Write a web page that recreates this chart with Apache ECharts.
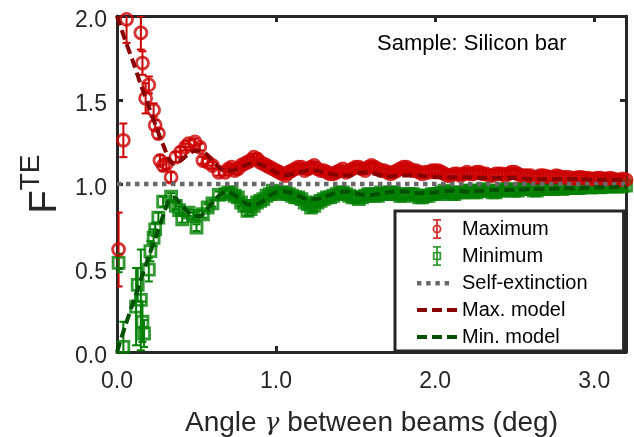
<!DOCTYPE html>
<html>
<head>
<meta charset="utf-8">
<title>F TE vs angle</title>
<script src="https://cdn.jsdelivr.net/npm/echarts@6/dist/echarts.min.js"></script>
<style>
    html, body { margin: 0; padding: 0; background: #fff; }
    #chart-container { width: 634px; height: 437px; }
</style>
</head>
<body>
<div id="chart-container"></div>
<script>
// early (small-angle) measurement positions, deg
const maxAngleEarly = [0.01, 0.04, 0.06, 0.15, 0.16, 0.18, 0.20, 0.23, 0.24, 0.26, 0.27, 0.29,
    0.31, 0.34, 0.37, 0.40, 0.43, 0.45, 0.49, 0.52, 0.54, 0.57, 0.60, 0.64];
const minAngleEarly = [0.01, 0.04, 0.12, 0.13, 0.15, 0.16, 0.17, 0.20, 0.21, 0.23, 0.24, 0.26,
    0.29, 0.34, 0.37, 0.39, 0.41, 0.45, 0.48, 0.50, 0.54, 0.57, 0.60, 0.64];
// shared positions past 0.66 deg
const tailAngle = [0.68, 0.72, 0.76, 0.80, 0.84, 0.88, 0.92, 0.96, 1.00, 1.04, 1.08, 1.12, 1.16,
    1.20, 1.24, 1.28, 1.32, 1.36, 1.40, 1.44, 1.48, 1.52, 1.56, 1.60, 1.64, 1.68, 1.72, 1.76,
    1.80, 1.84, 1.88, 1.92, 1.96, 2.00, 2.04, 2.08, 2.12, 2.16, 2.20, 2.24, 2.28, 2.32, 2.36,
    2.40, 2.44, 2.48, 2.52, 2.56, 2.60, 2.64, 2.68, 2.72, 2.76, 2.80, 2.84, 2.88, 2.92, 2.96,
    3.00, 3.04, 3.08, 3.12, 3.16, 3.20];
// in-between positions (second pass)
const midAngle = [0.70, 0.74, 0.78, 0.82, 0.86, 0.90, 0.94, 0.98, 1.02, 1.06, 1.10, 1.14, 1.18,
    1.22, 1.26, 1.30, 1.34, 1.38, 1.42, 1.46, 1.50, 1.54, 1.58, 1.62, 1.66, 1.70, 1.74, 1.78,
    1.82, 1.86, 1.90, 1.94, 1.98, 2.02, 2.06, 2.10, 2.14, 2.18, 2.22, 2.26, 2.30, 2.34, 2.38,
    2.42, 2.46, 2.50, 2.54, 2.58, 2.62, 2.66, 2.70, 2.74, 2.78, 2.82, 2.86, 2.90, 2.94, 2.98,
    3.02, 3.06, 3.10, 3.14, 3.18];

// Maximum (red circles): early + tail
const maxValue = [0.61, 1.26, 1.98, 1.90, 1.72, 1.51, 1.59, 1.44, 1.35, 1.30, 1.14, 1.11,
    1.12, 1.04, 1.16, 1.19, 1.22, 1.24, 1.25, 1.22, 1.14, 1.13, 1.11, 1.07,
    1.07, 1.10, 1.09, 1.12, 1.14, 1.15, 1.12, 1.10, 1.08, 1.06,
    1.07, 1.09, 1.10, 1.09, 1.11, 1.08, 1.07, 1.06, 1.08, 1.07,
    1.09, 1.10, 1.08, 1.11, 1.09, 1.08, 1.06, 1.08, 1.10, 1.09,
    1.08, 1.06, 1.07, 1.08, 1.07, 1.05, 1.06, 1.05, 1.07, 1.06,
    1.07, 1.06, 1.05, 1.06, 1.05, 1.07, 1.06, 1.05, 1.05, 1.04,
    1.05, 1.04, 1.05, 1.04, 1.04, 1.035, 1.04, 1.035, 1.03, 1.035,
    1.03, 1.03, 1.025, 1.025];
const maxError = [0.22, 0.10, 0.14, 0.10, 0.07, 0.09, 0.05, 0.04, 0.03, 0.03, 0.03, 0.03,
    0.03, 0.03, 0.03, 0.03, 0.02, 0.02, 0.02, 0.02, 0.02, 0.02, 0.02, 0.02,
    0.02, 0.02, 0.03, 0.02, 0.02, 0.03, 0.02, 0.02, 0.02, 0.02,
    0.02, 0.02, 0.02, 0.03, 0.02, 0.02, 0.02, 0.02, 0.02, 0.02,
    0.02, 0.02, 0.02, 0.02, 0.02, 0.02, 0.02, 0.02, 0.02, 0.02,
    0.02, 0.02, 0.02, 0.02, 0.02, 0.02, 0.02, 0.02, 0.02, 0.02,
    0.02, 0.02, 0.02, 0.02, 0.02, 0.02, 0.02, 0.02, 0.02, 0.02,
    0.02, 0.02, 0.02, 0.02, 0.02, 0.02, 0.02, 0.02, 0.02, 0.02,
    0.02, 0.02, 0.02, 0.02];
const maxValueMid = [1.09, 1.08, 1.11, 1.13, 1.16, 1.13, 1.11, 1.09,
    1.07, 1.05, 1.08, 1.10, 1.08, 1.10, 1.09, 1.08, 1.06, 1.07, 1.09, 1.08, 1.10,
    1.09, 1.10, 1.10, 1.08, 1.07, 1.07, 1.09, 1.10, 1.08, 1.07, 1.07, 1.08,
    1.08, 1.06, 1.05, 1.06, 1.06, 1.06, 1.07, 1.06, 1.05, 1.06, 1.06, 1.06,
    1.07, 1.05, 1.05, 1.04, 1.05, 1.045, 1.04, 1.045, 1.04, 1.035, 1.04, 1.035, 1.03,
    1.035, 1.03, 1.035, 1.025, 1.03];
const maxErrorMid = [0.02, 0.02, 0.02, 0.03, 0.02, 0.02, 0.02, 0.02,
    0.02, 0.02, 0.02, 0.02, 0.02, 0.02, 0.02, 0.02, 0.02, 0.02, 0.02, 0.02, 0.02,
    0.02, 0.02, 0.02, 0.02, 0.02, 0.02, 0.02, 0.02, 0.02, 0.02, 0.02, 0.02,
    0.02, 0.02, 0.02, 0.02, 0.02, 0.02, 0.02, 0.02, 0.02, 0.02, 0.02, 0.02,
    0.02, 0.02, 0.02, 0.02, 0.02, 0.02, 0.02, 0.02, 0.02, 0.02, 0.02, 0.02, 0.02,
    0.02, 0.02, 0.02, 0.02, 0.02];

// Minimum (green squares): early + tail
const minValue = [0.53, 0.03, 0.27, 0.40, 0.31, 0.18, 0.11, 0.49, 0.60, 0.68, 0.73, 0.80,
    0.895, 0.925, 0.87, 0.845, 0.79, 0.83, 0.81, 0.74, 0.82, 0.86, 0.885, 0.935,
    0.94, 0.95, 0.92, 0.87, 0.85, 0.89, 0.91, 0.94, 0.95, 0.95,
    0.94, 0.92, 0.91, 0.88, 0.87, 0.90, 0.92, 0.93, 0.95, 0.94,
    0.92, 0.91, 0.93, 0.94, 0.93, 0.94, 0.95, 0.94, 0.93, 0.94,
    0.93, 0.92, 0.93, 0.94, 0.95, 0.95, 0.94, 0.95, 0.96, 0.95,
    0.96, 0.96, 0.95, 0.96, 0.97, 0.96, 0.96, 0.97, 0.97, 0.96,
    0.97, 0.97, 0.975, 0.97, 0.98, 0.975, 0.98, 0.98, 0.985, 0.98,
    0.985, 0.99, 0.985, 0.99];
const minError = [0.055, 0.15, 0.23, 0.10, 0.30, 0.12, 0.08, 0.07, 0.06, 0.05, 0.04, 0.03,
    0.03, 0.02, 0.02, 0.02, 0.02, 0.02, 0.02, 0.02, 0.02, 0.02, 0.02, 0.02,
    0.02, 0.02, 0.02, 0.03, 0.02, 0.02, 0.02, 0.02, 0.02, 0.02,
    0.02, 0.02, 0.02, 0.02, 0.03, 0.02, 0.02, 0.02, 0.02, 0.02,
    0.02, 0.02, 0.02, 0.02, 0.02, 0.02, 0.02, 0.02, 0.02, 0.02,
    0.02, 0.02, 0.02, 0.02, 0.02, 0.02, 0.02, 0.02, 0.02, 0.02,
    0.02, 0.02, 0.02, 0.02, 0.02, 0.02, 0.02, 0.02, 0.02, 0.02,
    0.02, 0.02, 0.02, 0.02, 0.02, 0.02, 0.02, 0.02, 0.02, 0.02,
    0.02, 0.02, 0.02, 0.02];
const minValueMid = [0.95, 0.93, 0.89, 0.84, 0.87, 0.90, 0.93, 0.96,
    0.94, 0.95, 0.93, 0.92, 0.89, 0.86, 0.89, 0.91, 0.92, 0.94, 0.95, 0.93, 0.92,
    0.92, 0.94, 0.93, 0.95, 0.94, 0.95, 0.93, 0.94, 0.94, 0.92, 0.93, 0.94,
    0.94, 0.96, 0.94, 0.95, 0.95, 0.96, 0.95, 0.97, 0.96, 0.95, 0.96, 0.97,
    0.96, 0.97, 0.97, 0.96, 0.97, 0.975, 0.97, 0.975, 0.975, 0.98, 0.975, 0.985, 0.98,
    0.985, 0.985, 0.99, 0.985, 0.99];
const minErrorMid = [0.02, 0.02, 0.02, 0.03, 0.02, 0.02, 0.02, 0.02,
    0.02, 0.02, 0.02, 0.02, 0.02, 0.03, 0.02, 0.02, 0.02, 0.02, 0.02, 0.02, 0.02,
    0.02, 0.02, 0.02, 0.02, 0.02, 0.02, 0.02, 0.02, 0.02, 0.02, 0.02, 0.02,
    0.02, 0.02, 0.02, 0.02, 0.02, 0.02, 0.02, 0.02, 0.02, 0.02, 0.02, 0.02,
    0.02, 0.02, 0.02, 0.02, 0.02, 0.02, 0.02, 0.02, 0.02, 0.02, 0.02, 0.02, 0.02,
    0.02, 0.02, 0.02, 0.02, 0.02];

// model curves
const modelAngle = [0, 0.05, 0.10, 0.15, 0.20, 0.25, 0.30, 0.33, 0.36, 0.40, 0.44, 0.48, 0.52,
    0.56, 0.60, 0.64, 0.68, 0.72, 0.76, 0.80, 0.84, 0.88, 0.92, 0.96, 1.00, 1.05, 1.10, 1.15,
    1.20, 1.25, 1.30, 1.35, 1.40, 1.45, 1.50, 1.55, 1.60, 1.70, 1.80, 1.90, 2.00, 2.10, 2.20,
    2.30, 2.40, 2.50, 2.60, 2.70, 2.80, 2.90, 3.00, 3.10, 3.20];
const maxModel = [2.00, 1.86, 1.73, 1.59, 1.46, 1.33, 1.21, 1.14, 1.12, 1.14, 1.17, 1.195, 1.20,
    1.18, 1.14, 1.10, 1.08, 1.08, 1.09, 1.11, 1.12, 1.12, 1.11, 1.09, 1.07, 1.05, 1.06, 1.07,
    1.08, 1.08, 1.07, 1.06, 1.05, 1.05, 1.06, 1.07, 1.065, 1.045, 1.05, 1.05, 1.04, 1.04, 1.04,
    1.035, 1.035, 1.035, 1.03, 1.03, 1.03, 1.03, 1.025, 1.025, 1.025];
const minModel = [0.00, 0.15, 0.29, 0.43, 0.57, 0.70, 0.84, 0.91, 0.92, 0.88, 0.84, 0.81, 0.81,
    0.84, 0.89, 0.93, 0.95, 0.945, 0.92, 0.89, 0.875, 0.88, 0.90, 0.93, 0.95, 0.955, 0.945, 0.925,
    0.91, 0.91, 0.92, 0.94, 0.95, 0.955, 0.945, 0.935, 0.935, 0.95, 0.955, 0.945, 0.95, 0.96, 0.955,
    0.96, 0.965, 0.965, 0.97, 0.97, 0.975, 0.975, 0.98, 0.98, 0.985];

const selfExtinction = 1.0;
const xTicks = [0, 1, 2, 3];

const FONT = 'Liberation Sans, Arial, sans-serif';
const RED = '#cc0000';
const GREEN = '#008000';
const DARK_RED = '#880000';
const DARK_GREEN = '#005000';
const GREY = '#686868';
const FRAME = '#262626';

const maxAngle = maxAngleEarly.concat(tailAngle, midAngle);
const minAngle = minAngleEarly.concat(tailAngle, midAngle);
const maxAll = maxValue.concat(maxValueMid);
const maxErrAll = maxError.concat(maxErrorMid);
const minAll = minValue.concat(minValueMid);
const minErrAll = minError.concat(minErrorMid);

// legend icons, all drawn in a 40x20 box (the two M's fix the box)
const maxIcon = 'path://M0 0M40 20M16 0H24V1.8H16ZM16 18.2H24V20H16ZM19.1 0H20.9V20H19.1Z' +
    'M15.5 10A4.5 4.5 0 1 1 24.5 10A4.5 4.5 0 1 1 15.5 10Z' +
    'M17.3 10A2.7 2.7 0 1 0 22.7 10A2.7 2.7 0 1 0 17.3 10Z';
const minIcon = 'path://M0 0M40 20M16 0H24V1.8H16ZM16 18.2H24V20H16ZM19.1 0H20.9V20H19.1Z' +
    'M15.8 5.8H24.2V14.2H15.8Z' +
    'M17.6 7.6V12.4H22.4V7.6Z';
const dotIcon = 'path://M0 0M40 20M0 8H4.4V12.4H0ZM9.2 8H13.6V12.4H9.2ZM18.4 8H22.8V12.4H18.4Z' +
    'M27.6 8H32V12.4H27.6Z';
const dashIcon = 'path://M0 0M40 20M0 8H10V12H0ZM15 8H25V12H15ZM30 8H40V12H30Z';

// vertical error bar with caps
function renderErrorBar(params, api) {
    const x = api.value(0);
    const top = api.coord([x, api.value(2)]);
    const bot = api.coord([x, api.value(1)]);
    const w = 4;
    const style = { stroke: api.visual('color'), lineWidth: 2 };
    return {
        type: 'group',
        children: [
            { type: 'line', shape: { x1: top[0], y1: top[1], x2: bot[0], y2: bot[1] }, style: style },
            { type: 'line', shape: { x1: top[0] - w, y1: top[1], x2: top[0] + w, y2: top[1] }, style: style },
            { type: 'line', shape: { x1: bot[0] - w, y1: bot[1], x2: bot[0] + w, y2: bot[1] }, style: style }
        ]
    };
}

const chart = echarts.init(document.getElementById('chart-container'));

const option = {
    animation: false,
    backgroundColor: '#fff',
    textStyle: { fontFamily: FONT },
    title: {
        text: 'Sample: Silicon bar',
        left: 377,
        top: 33,
        padding: 0,
        textStyle: { fontFamily: FONT, fontSize: 22, fontWeight: 'normal', color: '#000' }
    },
    legend: {
        orient: 'vertical',
        left: 395,
        top: 211,
        padding: [8, 36, 4, 22],
        itemWidth: 40,
        itemHeight: 20,
        itemGap: 7,
        backgroundColor: '#fff',
        borderColor: FRAME,
        borderWidth: 3,
        borderRadius: 0,
        z: 10,
        textStyle: { fontFamily: FONT, fontSize: 20, color: '#000' },
        data: [
            { name: 'Maximum', icon: maxIcon, itemStyle: { color: RED, borderWidth: 0 } },
            { name: 'Minimum', icon: minIcon, itemStyle: { color: GREEN, borderWidth: 0 } },
            { name: 'Self-extinction', icon: dotIcon, itemStyle: { color: GREY, borderWidth: 0 } },
            { name: 'Max. model', icon: dashIcon, itemStyle: { color: DARK_RED, borderWidth: 0 } },
            { name: 'Min. model', icon: dashIcon, itemStyle: { color: DARK_GREEN, borderWidth: 0 } }
        ]
    },
    grid: {
        left: 117,
        right: 8,
        top: 16,
        bottom: 85,
        outerBoundsMode: 'none'
    },
    xAxis: [
        {
            type: 'value',
            min: 0,
            max: 3.2,
            interval: 1,
            name: 'Angle {g|γ} between beams (deg)',
            nameLocation: 'middle',
            nameGap: 57,
            nameTextStyle: {
                fontFamily: FONT, fontSize: 28, color: '#262626',
                rich: { g: { fontFamily: 'DejaVu Serif', fontStyle: 'italic', fontSize: 25, color: '#262626' } }
            },
            axisLine: { show: true, onZero: false, lineStyle: { color: FRAME, width: 3 } },
            axisTick: { show: true, inside: true, length: 6, lineStyle: { color: FRAME, width: 3 } },
            axisLabel: {
                margin: 18, fontFamily: FONT, fontSize: 23, color: '#262626',
                showMaxLabel: false,
                formatter: v => xTicks.includes(v) ? v.toFixed(1) : ''
            },
            splitLine: { show: false }
        },
        {
            type: 'value',
            position: 'top',
            min: 0,
            max: 3.2,
            interval: 1,
            axisLine: { show: true, onZero: false, lineStyle: { color: FRAME, width: 3 } },
            axisTick: { show: true, inside: true, length: 6, lineStyle: { color: FRAME, width: 3 } },
            axisLabel: { show: false },
            splitLine: { show: false }
        }
    ],
    yAxis: [
        {
            type: 'value',
            min: 0,
            max: 2,
            interval: 0.5,
            name: '{f|F}{s|TE}',
            nameLocation: 'middle',
            nameGap: 56,
            nameTextStyle: {
                rich: {
                    f: { fontFamily: FONT, fontSize: 38, lineHeight: 38, padding: [17, 0, 0, 0], color: '#262626' },
                    s: { fontFamily: FONT, fontSize: 28, lineHeight: 28, verticalAlign: 'top', color: '#262626' }
                }
            },
            axisLine: { show: true, onZero: false, lineStyle: { color: FRAME, width: 3 } },
            axisTick: { show: true, inside: true, length: 6, lineStyle: { color: FRAME, width: 3 } },
            axisLabel: {
                margin: 10, color: '#262626',
                formatter: v => '{t|' + v.toFixed(1) + '}',
                rich: {
                    t: { fontFamily: FONT, fontSize: 23, color: '#262626', padding: [10, 0, 0, 0] }
                }
            },
            splitLine: { show: false }
        },
        {
            type: 'value',
            position: 'right',
            min: 0,
            max: 2,
            interval: 0.5,
            axisLine: { show: true, onZero: false, lineStyle: { color: FRAME, width: 3 } },
            axisTick: { show: true, inside: true, length: 6, lineStyle: { color: FRAME, width: 3 } },
            axisLabel: { show: false },
            splitLine: { show: false }
        }
    ],
    series: [
        {
            name: 'maxErr',
            type: 'custom',
            renderItem: renderErrorBar,
            clip: true,
            itemStyle: { color: RED },
            encode: { x: 0, y: [1, 2] },
            data: maxAngle.map((a, i) => [a, maxAll[i] - maxErrAll[i], maxAll[i] + maxErrAll[i]]),
            z: 3
        },
        {
            name: 'minErr',
            type: 'custom',
            renderItem: renderErrorBar,
            clip: true,
            itemStyle: { color: GREEN },
            encode: { x: 0, y: [1, 2] },
            data: minAngle.map((a, i) => [a, minAll[i] - minErrAll[i], minAll[i] + minErrAll[i]]),
            z: 3
        },
        {
            name: 'Minimum',
            type: 'scatter',
            symbol: 'rect',
            symbolSize: 11,
            itemStyle: { color: 'rgba(0,0,0,0)', borderColor: GREEN, borderWidth: 2.8 },
            data: minAngle.map((a, i) => [a, minAll[i]]),
            z: 3
        },
        {
            name: 'Maximum',
            type: 'scatter',
            symbol: 'circle',
            symbolSize: 12,
            itemStyle: { color: 'rgba(0,0,0,0)', borderColor: RED, borderWidth: 2.8 },
            data: maxAngle.map((a, i) => [a, maxAll[i]]),
            z: 3
        },
        {
            name: 'Self-extinction',
            type: 'line',
            symbol: 'none',
            lineStyle: { color: GREY, width: 4.5, type: [4.5, 4.5], cap: 'butt' },
            itemStyle: { color: GREY },
            data: [[0, selfExtinction], [3.2, selfExtinction]],
            z: 4
        },
        {
            name: 'Max. model',
            type: 'line',
            symbol: 'none',
            smooth: 0.3,
            lineStyle: { color: DARK_RED, width: 4, type: [10, 5] },
            itemStyle: { color: DARK_RED },
            data: modelAngle.map((a, i) => [a, maxModel[i]]),
            z: 5
        },
        {
            name: 'Min. model',
            type: 'line',
            symbol: 'none',
            smooth: 0.3,
            lineStyle: { color: DARK_GREEN, width: 4, type: [10, 5] },
            itemStyle: { color: DARK_GREEN },
            data: modelAngle.map((a, i) => [a, minModel[i]]),
            z: 5
        }
    ]
};

chart.setOption(option);
window.addEventListener('resize', () => chart.resize());
</script>
</body>
</html>
